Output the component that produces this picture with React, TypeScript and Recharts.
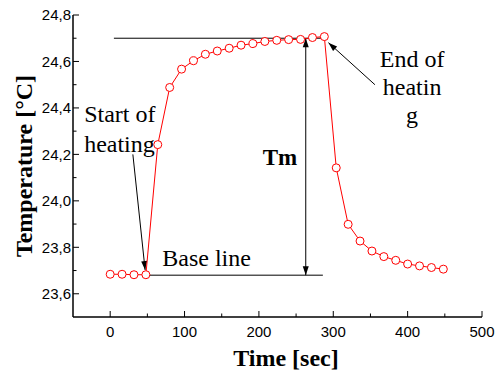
import {
  ComposedChart,
  Line,
  XAxis,
  YAxis,
  ReferenceLine,
} from "recharts"

const times = [
  0, 16, 32, 48, 64, 80, 96, 112, 128, 144, 160, 176, 192, 208, 224, 240, 256,
  272, 288, 304, 320, 336, 352, 368, 384, 400, 416, 432, 448,
]
const temps = [
  23.684, 23.684, 23.682, 23.682, 24.242, 24.488, 24.567, 24.603, 24.631,
  24.645, 24.657, 24.67, 24.677, 24.686, 24.691, 24.694, 24.695, 24.703,
  24.707, 24.142, 23.899, 23.827, 23.784, 23.76, 23.744, 23.728, 23.72, 23.713,
  23.706,
]
const xTicks = [0, 50, 100, 150, 200, 250, 300, 350, 400, 450, 500]
const yTicks = [
  23.6, 23.7, 23.8, 23.9, 24.0, 24.1, 24.2, 24.3, 24.4, 24.5, 24.6, 24.7, 24.8,
]

const data = times.map((t, i) => ({ t, temp: temps[i] }))

const SERIF = "'Liberation Serif', 'Times New Roman', serif"
const SANS = "'Liberation Sans', Arial, sans-serif"
const RED = "#ff0000"
const MAJOR = 6
const MINOR = 3.5

const isMajorX = (v: number) => v % 100 === 0
const isMajorY = (v: number) => Math.round(v * 10) % 2 === 0

function BottomTick({ x, y, payload }: any) {
  const major = isMajorX(payload.value)
  return (
    <g>
      <line x1={x} x2={x} y1={y} y2={y - (major ? MAJOR : MINOR)} stroke="#000" />
      {major && (
        <text x={x} y={y + 20} textAnchor="middle" style={{ fontFamily: SANS, fontSize: 15 }} fill="#000">
          {payload.value}
        </text>
      )}
    </g>
  )
}

function TopTick({ x, y, payload }: any) {
  const major = isMajorX(payload.value)
  return <line x1={x} x2={x} y1={y} y2={y + (major ? MAJOR : MINOR)} stroke="#000" />
}

function LeftTick({ x, y, payload }: any) {
  const major = isMajorY(payload.value)
  return (
    <g>
      <line x1={x} x2={x + (major ? MAJOR : MINOR)} y1={y} y2={y} stroke="#000" />
      {major && (
        <text x={x - 2} y={y} dy="0.35em" textAnchor="end" style={{ fontFamily: SANS, fontSize: 15 }} fill="#000">
          {payload.value.toFixed(1).replace(".", ",")}
        </text>
      )}
    </g>
  )
}

function RightTick({ x, y, payload }: any) {
  const major = isMajorY(payload.value)
  return <line x1={x} x2={x - (major ? MAJOR : MINOR)} y1={y} y2={y} stroke="#000" />
}

// arrow head at (x2,y2) pointing away from (x1,y1)
function head(x1: number, y1: number, x2: number, y2: number) {
  const a = Math.atan2(y2 - y1, x2 - x1)
  const len = 9
  const w = 3
  const bx = x2 - len * Math.cos(a)
  const by = y2 - len * Math.sin(a)
  const px = -Math.sin(a) * w
  const py = Math.cos(a) * w
  return (
    <polygon
      points={`${x2},${y2} ${bx + px},${by + py} ${bx - px},${by - py}`}
      fill="#000"
    />
  )
}

const arrow = (both: boolean) => (p: any) => (
  <g>
    <line x1={p.x1} y1={p.y1} x2={p.x2} y2={p.y2} stroke="#000" strokeWidth={1} />
    {head(p.x1, p.y1, p.x2, p.y2)}
    {both && head(p.x2, p.y2, p.x1, p.y1)}
  </g>
)

const note =
  (text: string, anchor: "start" | "middle" = "start", bold = false, size = 24) =>
  (p: any) => (
    <text
      x={p.x1}
      y={p.y1}
      textAnchor={anchor}
      fill="#000"
      fontFamily={SERIF}
      style={{
        fontFamily: SERIF,
        fontSize: size,
        fontWeight: bold ? "bold" : "normal",
      }}
    >
      {text}
    </text>
  )

// text notes: [x, y, text, anchor, bold, size]
const notes: [number, number, string, "start" | "middle", boolean, number][] = [
  [-35, 24.341, "Start of", "start", false, 24],
  [-35, 24.21, "heating", "start", false, 24],
  [70, 23.72, "Base line", "start", false, 24],
  [205, 24.156, "Tm", "start", true, 23],
  [406, 24.578, "End of", "middle", false, 24],
  [406, 24.457, "heatin", "middle", false, 24],
  [406, 24.336, "g", "middle", false, 24],
]

export default function App() {
  return (
    <div style={{ position: "absolute", left: 0, top: 0, background: "#fff" }}>
      <ComposedChart
        width={497}
        height={377}
        data={data}
        margin={{ top: 15, right: 15, left: 0, bottom: 0 }}
      >
        <XAxis
          dataKey="t"
          type="number"
          domain={[-50, 500]}
          ticks={xTicks}
          interval={0}
          height={60}
          tickSize={0}
          tickMargin={0}
          tickLine={false}
          axisLine={{ stroke: "#000", strokeWidth: 1.5 }}
          tick={BottomTick}
          label={{
            content: () => (
              <text x={286} y={366} textAnchor="middle" fill="#000" style={{ fontFamily: SERIF, fontSize: 24, fontWeight: "bold" }}>
                Time [sec]
              </text>
            ),
          }}
        />
        <XAxis
          xAxisId="top"
          orientation="top"
          dataKey="t"
          type="number"
          domain={[-50, 500]}
          ticks={xTicks}
          interval={0}
          height={0}
          tickSize={0}
          tickMargin={0}
          tickLine={false}
          axisLine={{ stroke: "#000", strokeWidth: 1.5 }}
          tick={TopTick}
        />
        <YAxis
          type="number"
          domain={[23.5, 24.8]}
          ticks={yTicks}
          interval={0}
          width={73}
          tickSize={0}
          tickMargin={0}
          tickLine={false}
          axisLine={{ stroke: "#000", strokeWidth: 1.5 }}
          tick={LeftTick}
          label={{
            content: () => (
              <text
                transform="translate(32,166) rotate(-90)"
                textAnchor="middle"
                fill="#000"
                style={{ fontFamily: SERIF, fontSize: 24, fontWeight: "bold" }}
              >
                Temperature [°C]
              </text>
            ),
          }}
        />
        <YAxis
          yAxisId="right"
          orientation="right"
          type="number"
          domain={[23.5, 24.8]}
          ticks={yTicks}
          interval={0}
          width={0}
          tickSize={0}
          tickMargin={0}
          tickLine={false}
          axisLine={{ stroke: "#000", strokeWidth: 1.5 }}
          tick={RightTick}
        />

        <ReferenceLine
          segment={[{ x: 5, y: 24.7 }, { x: 292, y: 24.7 }]}
          stroke="#000"
          strokeWidth={1}
        />
        <ReferenceLine
          segment={[{ x: 48, y: 23.68 }, { x: 286, y: 23.68 }]}
          stroke="#000"
          strokeWidth={1}
        />
        <ReferenceLine
          segment={[{ x: 263, y: 24.7 }, { x: 263, y: 23.68 }]}
          shape={arrow(true)}
        />
        <ReferenceLine
          segment={[{ x: 30.5, y: 24.2 }, { x: 47, y: 23.702 }]}
          shape={arrow(false)}
        />
        <ReferenceLine
          segment={[{ x: 356, y: 24.5 }, { x: 293.5, y: 24.681 }]}
          shape={arrow(false)}
        />

        {notes.map(([x, y, text, anchor, bold, size]) => (
          <ReferenceLine
            key={text}
            segment={[{ x, y }, { x, y }]}
            shape={note(text, anchor, bold, size)}
          />
        ))}

        <Line
          dataKey="temp"
          stroke={RED}
          strokeWidth={1}
          dot={{ r: 4, stroke: RED, strokeWidth: 1, fill: "#fff" }}
          isAnimationActive={false}
        />
      </ComposedChart>
    </div>
  )
}
